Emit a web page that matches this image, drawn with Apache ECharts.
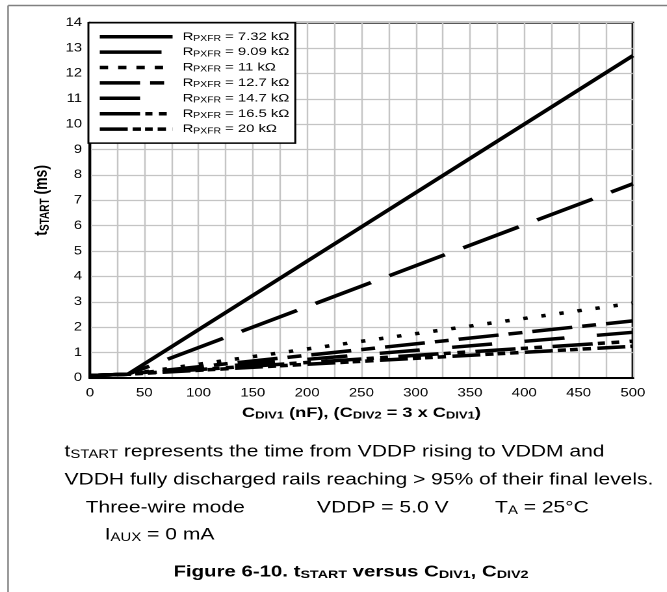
<!DOCTYPE html>
<html><head><meta charset="utf-8">
<script src="https://cdn.jsdelivr.net/npm/echarts@6/dist/echarts.min.js"></script>
<style>
html,body{margin:0;padding:0;background:#fff;overflow:hidden}
#wrap{width:667px;height:592px;position:relative;overflow:hidden}
#c{width:513px;height:592px;transform:scaleX(1.3);transform-origin:0 0;position:absolute;left:0;top:0}
</style>
</head><body><div id="wrap"><div id="c"></div></div>
<script>
// ---- data ----
const cdivNF = [0, 35, 500];                 // x: C_DIV1 (nF)
const tR732 = [0.10, 0.15, 12.7];            // R_PXFR = 7.32 kΩ
const tR909 = [0.10, 0.15, 7.65];            // R_PXFR = 9.09 kΩ
const tR11  = [0.10, 0.15, 2.95];            // R_PXFR = 11 kΩ
const tR127 = [0.10, 0.15, 2.25];            // R_PXFR = 12.7 kΩ
const tR147 = [0.10, 0.15, 1.8];             // R_PXFR = 14.7 kΩ
const tR165 = [0.10, 0.15, 1.45];            // R_PXFR = 16.5 kΩ
const tR20  = [0.10, 0.15, 1.25];            // R_PXFR = 20 kΩ
const seriesLabels = ['7.32 kΩ', '9.09 kΩ', '11 kΩ', '12.7 kΩ', '14.7 kΩ', '16.5 kΩ', '20 kΩ'];
const seriesValues = [tR732, tR909, tR11, tR127, tR147, tR165, tR20];
const xTicks = [0, 50, 100, 150, 200, 250, 300, 350, 400, 450, 500];
const yTicks = [0, 1, 2, 3, 4, 5, 6, 7, 8, 9, 10, 11, 12, 13, 14];

// ---- styles ----
const dashes = [
  'solid',
  [47.5, 15.8],
  [3.4, 10.7],
  [31, 7.7, 10.8, 7.7],
  [31, 25],
  [31, 4, 5.5, 5, 6, 8],
  [21.5, 3.8, 6.4, 3.1, 5.9, 3.8, 6.4, 5]
];
const legendDashes = dashes.slice();
legendDashes[2] = [6.4, 7.7];
const FONT = '"Liberation Sans", Arial, Helvetica, sans-serif';

const chart = echarts.init(document.getElementById('c'), null, {renderer: 'canvas', devicePixelRatio: 2});

const series = seriesLabels.map((lab, i) => ({
  name: lab,
  type: 'line',
  symbol: 'none',
  data: cdivNF.map((x, j) => [x, seriesValues[i][j]]),
  lineStyle: {color: '#000', width: 3.5, type: dashes[i], cap: 'butt', join: 'miter'},
  itemStyle: {color: '#000'},
  z: 3 + (6 - i),
  animation: false
}));

const gridLine = {show: true, lineStyle: {color: '#c4c4c4', width: 1.2}};

const option = {
  animation: false,
  backgroundColor: '#fff',
  grid: {left: 69.2, right: 26.2, top: 22.7, bottom: 214, show: true, borderColor: '#000', borderWidth: 2, backgroundColor: 'transparent'},
  xAxis: {
    type: 'value', min: xTicks[0], max: xTicks[xTicks.length - 1], interval: 50,
    axisLine: {show: true, lineStyle: {color: '#000', width: 2}},
    axisTick: {show: false},
    minorTick: {show: false, splitNumber: 2},
    splitLine: gridLine,
    minorSplitLine: gridLine,
    axisLabel: {color: '#000', fontSize: 11.5, fontFamily: FONT, margin: 9.5},
    name: '{b|C}{bs|DIV1}{b| (nF), (C}{bs|DIV2}{b| = 3 x C}{bs|DIV1}{b|)}',
    nameLocation: 'middle', nameGap: 27,
    nameTextStyle: {
      rich: {
        b: {fontSize: 14, fontWeight: 'bold', fontFamily: FONT, color: '#000', lineHeight: 16},
        bs: {fontSize: 10, fontWeight: 'bold', fontFamily: FONT, color: '#000', padding: [5, 0, 0, 0]}
      }
    }
  },
  yAxis: {
    type: 'value', min: yTicks[0], max: yTicks[yTicks.length - 1], interval: 1,
    axisLine: {show: true, lineStyle: {color: '#000', width: 2}},
    axisTick: {show: false},
    splitLine: gridLine,
    axisLabel: {color: '#000', fontSize: 11.5, fontFamily: FONT, margin: 6},
    name: '{b|t}{bs|START}{b| (ms)}',
    nameLocation: 'middle', nameGap: 26,
    nameTextStyle: {
      rich: {
        b: {fontSize: 14, fontWeight: 'bold', fontFamily: FONT, color: '#000', lineHeight: 16},
        bs: {fontSize: 10, fontWeight: 'bold', fontFamily: FONT, color: '#000', padding: [5, 0, 0, 0]}
      }
    }
  },
  legend: {
    orient: 'vertical', left: 68, top: 22.7,
    itemWidth: 56, itemHeight: 10, itemGap: 3.4,
    padding: [8, 4.6, 8, 7],
    backgroundColor: '#fff', borderColor: '#000', borderWidth: 1.5, borderRadius: 0,
    data: seriesLabels.map((n, i) => ({name: n, lineStyle: {type: legendDashes[i], width: 3.5, color: '#000', cap: 'butt'}})),
    itemStyle: {opacity: 0},
    formatter: n => '{g|}{n|R}{s|PXFR}{n| = ' + n + '}',
    textStyle: {
      rich: {
        g: {width: 2.7},
        n: {fontSize: 11.4, fontFamily: FONT, color: '#000', lineHeight: 12},
        s: {fontSize: 8, fontFamily: FONT, color: '#000', padding: [4, 0, 0, 0]}
      }
    },
    selectedMode: false,
    z: 10
  },
  graphic: [
    {type: 'line', shape: {x1: 6.2, y1: 5.5, x2: 520, y2: 5.5}, style: {stroke: '#808080', lineWidth: 1.5}, silent: true},
    {type: 'line', shape: {x1: 6.2, y1: 5.5, x2: 6.2, y2: 600}, style: {stroke: '#808080', lineWidth: 1.2}, silent: true},
    {type: 'text', x: 49.6, y: 452, silent: true, style: {
      text: '{a|t}{s|START}{a| represents the time from VDDP rising to VDDM and}',
      textVerticalAlign: 'middle',
      rich: {a: {fontSize: 16.2, fontFamily: FONT, color: '#000', lineHeight: 20}, s: {fontSize: 11.5, fontFamily: FONT, color: '#000', padding: [6, 0, 0, 0]}}
    }},
    {type: 'text', x: 49.6, y: 480, silent: true, style: {
      text: 'VDDH fully discharged rails reaching > 95% of their final levels.',
      textVerticalAlign: 'middle', fontSize: 16.2, fontFamily: FONT, fill: '#000'
    }},
    {type: 'text', x: 65.9, y: 508, silent: true, style: {
      text: 'Three-wire mode', textVerticalAlign: 'middle', fontSize: 16.2, fontFamily: FONT, fill: '#000'
    }},
    {type: 'text', x: 243.8, y: 508, silent: true, style: {
      text: 'VDDP = 5.0 V', textVerticalAlign: 'middle', fontSize: 16.2, fontFamily: FONT, fill: '#000'
    }},
    {type: 'text', x: 380.8, y: 508, silent: true, style: {
      text: '{a|T}{s|A}{a| = 25°C}', textVerticalAlign: 'middle',
      rich: {a: {fontSize: 16.2, fontFamily: FONT, color: '#000', lineHeight: 20}, s: {fontSize: 11.5, fontFamily: FONT, color: '#000', padding: [6, 0, 0, 0]}}
    }},
    {type: 'text', x: 80.5, y: 535, silent: true, style: {
      text: '{a|I}{s|AUX}{a| = 0 mA}', textVerticalAlign: 'middle',
      rich: {a: {fontSize: 16.2, fontFamily: FONT, color: '#000', lineHeight: 20}, s: {fontSize: 11.5, fontFamily: FONT, color: '#000', padding: [6, 0, 0, 0]}}
    }},
    {type: 'text', x: 270, y: 572, silent: true, style: {
      text: '{a|Figure 6-10. t}{s|START}{a| versus C}{s|DIV1}{a|, C}{s|DIV2}',
      textAlign: 'center', textVerticalAlign: 'middle',
      rich: {a: {fontSize: 15.7, fontWeight: 'bold', fontFamily: FONT, color: '#000', lineHeight: 20}, s: {fontSize: 11, fontWeight: 'bold', fontFamily: FONT, color: '#000', padding: [6, 0, 0, 0]}}
    }}
  ],
  series: series
};
chart.setOption(option);
</script>
</body></html>
